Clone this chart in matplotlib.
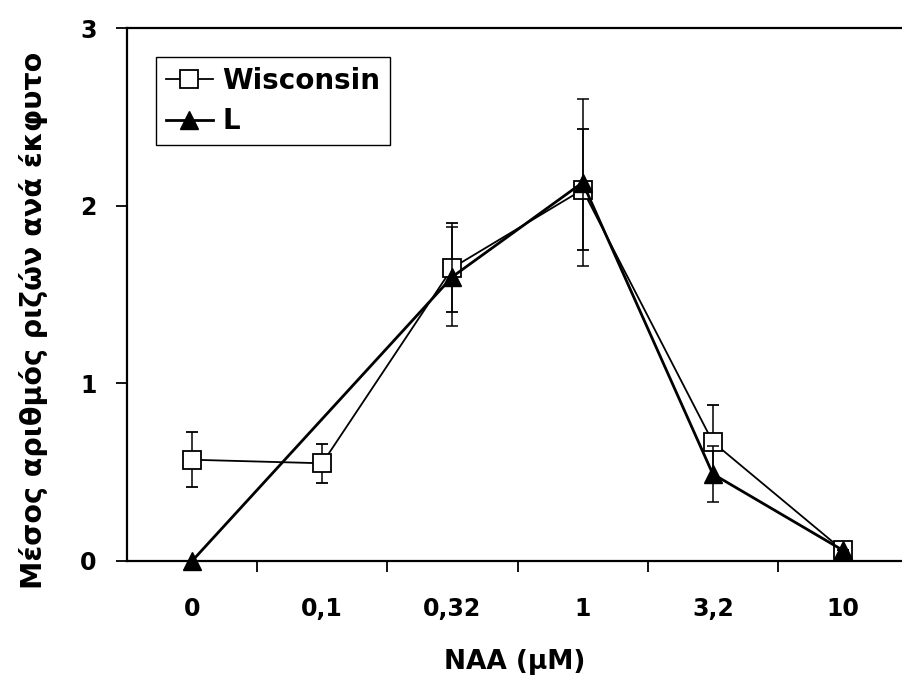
import numpy as np
import matplotlib
matplotlib.use("Agg")
import matplotlib.pyplot as plt
from matplotlib.lines import Line2D

categories = ['0', '0,1', '0,32', '1', '3,2', '10']
wisconsin = [0.57, 0.55, 1.65, 2.09, 0.67, 0.06]
wisconsin_err = [0.155, 0.11, 0.25, 0.34, 0.21, 0.0]
l_vals = [0.0, np.nan, 1.60, 2.13, 0.49, 0.06]
l_err = [0.0, np.nan, 0.28, 0.47, 0.16, 0.0]
y_ticks = [0, 1, 2, 3]

plt.rcParams['font.family'] = ['DejaVu Sans']
plt.rcParams['font.weight'] = 'bold'

fig = plt.figure(figsize=(9.02, 6.84), dpi=100)
ax = fig.add_axes([127/902, 1-561/684, 781/902, 533/684])

x = np.arange(len(categories))
lv = np.array(l_vals)
le = np.array(l_err)
m = ~np.isnan(lv)

w_kw = dict(color='black', lw=1.3, marker='s', ms=13, mfc='white',
            mec='black', mew=1.3)
l_kw = dict(color='black', lw=2.0, marker='^', ms=12.5, mfc='black',
            mec='black')

c1 = ax.errorbar(x, wisconsin, yerr=wisconsin_err, ecolor='black',
                 elinewidth=1.1, capsize=4.3, capthick=1.1, zorder=3, **w_kw)
c2 = ax.errorbar(x[m], lv[m], yerr=le[m], ecolor='black',
                 elinewidth=1.1, capsize=4.3, capthick=1.1, zorder=4, **l_kw)
for c in (c1, c2):
    for art in [c[0], *c[1], *c[2]]:
        art.set_clip_on(False)

ax.set_xlim(-0.5, len(categories) - 0.5)
ax.set_ylim(0, 3)
ax.set_yticks(y_ticks)
ax.set_yticklabels([str(t) for t in y_ticks])
ax.set_xticks(x)
ax.set_xticklabels(categories)
ax.set_xticks(np.arange(0.5, len(categories) - 0.5, 1.0), minor=True)
ax.tick_params(axis='x', which='major', length=0, pad=26, labelsize=17)
ax.tick_params(axis='x', which='minor', length=8, width=1.3, direction='out')
ax.tick_params(axis='y', which='major', length=8, width=1.3, direction='out',
               pad=14, labelsize=17)
for s in ax.spines.values():
    s.set_linewidth(1.6)

fig.text(515/902, 1-662/684, 'NAA (μM)', ha='center', va='center',
         fontsize=19, fontweight='bold')
fig.text(34/902, 1-320/684, 'Μέσος αριθμός ριζών ανά έκφυτο', ha='center',
         va='center', rotation=90, fontsize=20.5, fontweight='bold')

handles = [Line2D([], [], **w_kw), Line2D([], [], **l_kw)]
leg = ax.legend(handles, ['Wisconsin', 'L'], loc='upper left',
                bbox_to_anchor=((156-127)/781, (561-57)/533),
                borderaxespad=0, fancybox=False, edgecolor='black',
                framealpha=1, fontsize=20, handlelength=1.7,
                handletextpad=0.35, numpoints=1, borderpad=0.35,
                labelspacing=0.45)
leg.get_frame().set_linewidth(1.0)

fig.savefig('out.png', dpi=100)
